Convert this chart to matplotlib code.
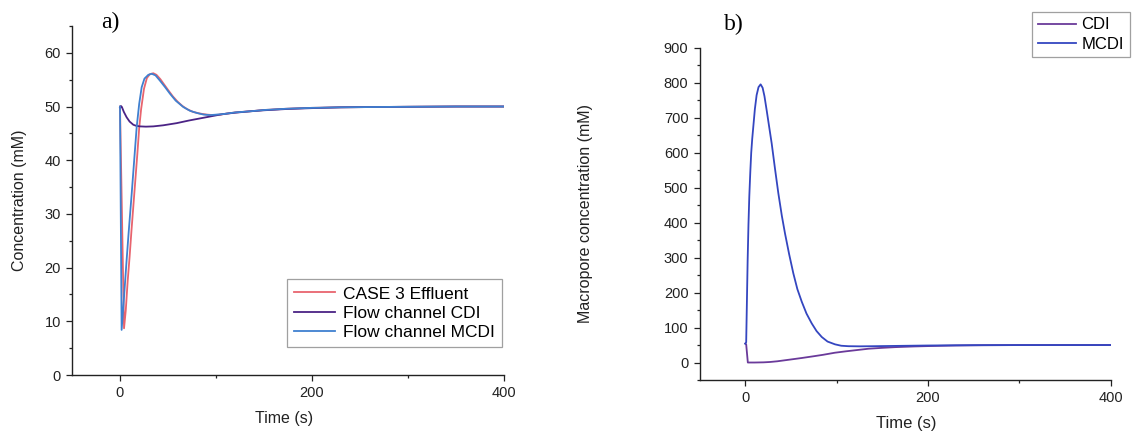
import matplotlib
matplotlib.use("Agg")
import matplotlib.pyplot as plt
from matplotlib.ticker import MultipleLocator

plt.rcParams["font.family"] = ["Liberation Sans", "DejaVu Sans"]

# ---- panel a) effluent / flow channel concentration (mM) ----
t_case3 = [0, 4.2, 6, 8, 10, 12, 15, 18, 20, 22, 25, 28, 31, 34.7, 38, 42, 46, 50,
           55, 60, 65, 70, 76, 83, 90, 97, 105, 112, 120, 135, 150, 175, 200, 230,
           260, 300, 350, 400]
c_case3 = [50, 8.7, 12, 17.5, 22, 27, 34, 41, 46, 49.5, 53.3, 55.3, 56, 56.2, 55.9,
           55.1, 54.1, 53.1, 51.9, 50.9, 50.1, 49.5, 49.0, 48.7, 48.5, 48.4, 48.5,
           48.7, 48.9, 49.1, 49.35, 49.6, 49.75, 49.85, 49.9, 49.95, 50, 50]

t_cdi_a = [0, 1, 2, 4, 6.9, 10, 13.9, 17, 20.8, 27, 34.7, 45, 59, 72, 86.8, 100,
           107.6, 120, 135, 150, 175, 200, 230, 260, 300, 350, 400]
c_cdi_a = [49.8, 50.1, 49.9, 49.0, 48.0, 47.2, 46.6, 46.4, 46.3, 46.25, 46.3, 46.5,
           46.9, 47.4, 47.9, 48.35, 48.6, 48.85, 49.1, 49.3, 49.55, 49.7, 49.85,
           49.9, 49.95, 50, 50]

t_mcdi_a = [0, 1.7, 4, 6.9, 9, 12.2, 15, 17.4, 20, 22.6, 25.5, 29.5, 33, 37, 41.7,
            47, 52, 58, 66, 73, 80, 87, 94, 101, 108, 120, 135, 150, 175, 200, 230,
            260, 300, 350, 400]
c_mcdi_a = [50, 8.4, 14, 21.4, 26.5, 33.8, 40.5, 46.2, 50.5, 53.6, 55.2, 55.9, 56.1,
            55.8, 54.8, 53.6, 52.4, 51.1, 49.9, 49.2, 48.8, 48.5, 48.4, 48.5, 48.6,
            48.9, 49.1, 49.35, 49.6, 49.75, 49.85, 49.9, 49.95, 50, 50]

# ---- panel b) macropore concentration (mM) ----
t_cdi_b = [0, 1, 2.8, 10, 20, 27, 35, 45, 55, 62, 75, 85, 98, 110, 120, 135, 150,
           164, 185, 200, 230, 260, 300, 400]
c_cdi_b = [54, 52, 0, 0, 0.5, 1.5, 3.5, 7, 10.5, 13, 18, 22, 28, 32, 35, 39.5, 42,
           44, 46, 47, 48.7, 49.5, 49.9, 50]

t_mcdi_b = [0, 1, 2.6, 3.5, 4.4, 5.5, 6.5, 7.6, 8.8, 10.5, 12.4, 14.5, 16.8, 19, 21,
            23.4, 26, 28.9, 32.5, 36.2, 40, 43.5, 48, 52.6, 57, 61.8, 67, 72.7, 78,
            83.7, 90, 98.2, 105, 112.8, 125, 140, 164, 200, 250, 300, 400]
c_mcdi_b = [54, 58, 293, 395, 475, 545, 600, 640, 675, 725, 765, 788, 796, 786, 762,
            722, 677, 627, 555, 484, 420, 369, 310, 255, 210, 174, 140, 112, 90, 73,
            60, 52, 48, 46.7, 46.3, 46.7, 47.5, 48.7, 49.6, 49.9, 50]

RED = "#e8646e"
PURPLE = "#4b2385"
BLUE = "#3f80d0"
PURPLE_B = "#6a3a9a"
BLUE_B = "#3446c0"
INK = "#222222"


def _style_axis(ax, ymajor, yminor):
    for side in ("top", "right"):
        ax.spines[side].set_visible(False)
    for side in ("left", "bottom"):
        ax.spines[side].set_linewidth(1.0)
        ax.spines[side].set_color(INK)
    ax.xaxis.set_major_locator(MultipleLocator(200))
    ax.xaxis.set_minor_locator(MultipleLocator(100))
    ax.yaxis.set_major_locator(MultipleLocator(ymajor))
    ax.yaxis.set_minor_locator(MultipleLocator(yminor))
    ax.tick_params(which="major", direction="out", length=4.5, width=0.9,
                   labelsize=10.5, colors=INK)
    ax.tick_params(which="minor", direction="out", length=2.5, width=0.9, colors=INK)


fig = plt.figure(figsize=(11.32, 4.32), dpi=100)

ax_a = fig.add_axes([0.0636, 0.1319, 0.3816, 0.808])
ax_a.plot(t_case3, c_case3, color=RED, lw=1.3, label="CASE 3 Effluent")
ax_a.plot(t_cdi_a, c_cdi_a, color=PURPLE, lw=1.3, label="Flow channel CDI")
ax_a.plot(t_mcdi_a, c_mcdi_a, color=BLUE, lw=1.3, label="Flow channel MCDI")
ax_a.set_xlim(-50, 400)
ax_a.set_ylim(0, 65)
_style_axis(ax_a, 10, 5)
ax_a.set_xlabel("Time (s)", fontsize=11.5, color=INK)
ax_a.set_ylabel("Concentration (mM)", fontsize=11.5, color=INK)
ax_a.xaxis.set_label_coords(0.492, -0.104)
ax_a.yaxis.set_label_coords(-0.104, 0.5)
leg_a = ax_a.legend(loc="lower right", bbox_to_anchor=(0.995, 0.079),
                    borderaxespad=0, fontsize=12.5, frameon=True, fancybox=False,
                    edgecolor="#888888", handlelength=2.4, handletextpad=0.45,
                    labelspacing=0.25, borderpad=0.4)
leg_a.get_frame().set_linewidth(0.9)

ax_b = fig.add_axes([0.618, 0.1204, 0.3633, 0.7685])
ax_b.plot(t_cdi_b, c_cdi_b, color=PURPLE_B, lw=1.3, label="CDI")
ax_b.plot(t_mcdi_b, c_mcdi_b, color=BLUE_B, lw=1.3, label="MCDI")
ax_b.set_xlim(-50, 400)
ax_b.set_ylim(-50, 900)
_style_axis(ax_b, 100, 50)
ax_b.set_xlabel("Time (s)", fontsize=12, color=INK)
ax_b.set_ylabel("Macropore concentration (mM)", fontsize=11.5, color=INK)
ax_b.xaxis.set_label_coords(0.502, -0.108)
ax_b.yaxis.set_label_coords(-0.26, 0.5)
leg_b = fig.legend(*ax_b.get_legend_handles_labels(), loc="upper right",
                   bbox_to_anchor=(0.998, 0.973), borderaxespad=0, fontsize=12,
                   frameon=True, fancybox=False, edgecolor="#888888",
                   handlelength=2.3, handletextpad=0.3, labelspacing=0.25,
                   borderpad=0.35)
leg_b.get_frame().set_linewidth(0.9)

fig.text(0.0972, 0.947, "a)", fontsize=17, family="Liberation Serif",
         ha="center", va="center", color="black")
fig.text(0.648, 0.944, "b)", fontsize=17, family="Liberation Serif",
         ha="center", va="center", color="black")

fig.savefig("out.png", dpi=100)
plt.close(fig)
